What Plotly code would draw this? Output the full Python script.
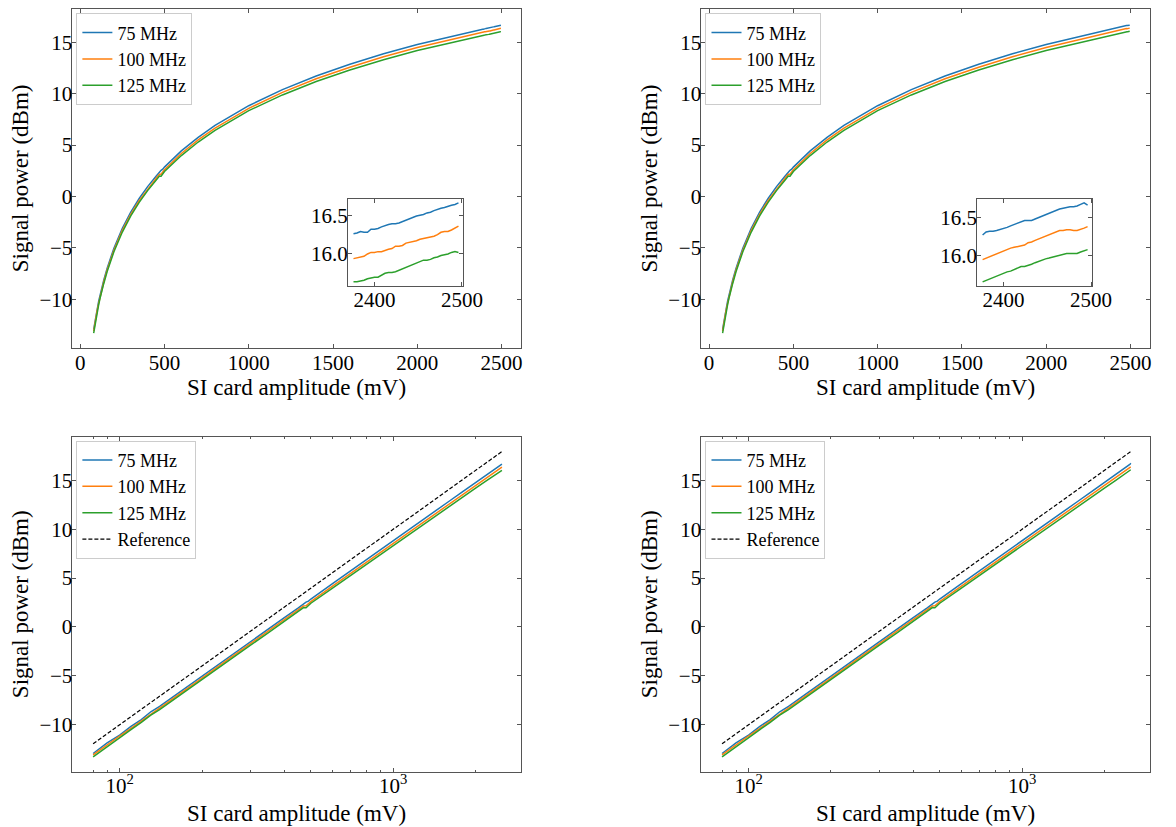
import plotly.graph_objects as go

# ---------------------------------------------------------------- data
# SI card output amplitude (mV), coarse sweep
amplitude_mv = [80, 90, 100, 110, 120, 130, 140, 160, 180, 200, 250, 300, 350, 400,
                450, 470, 480, 490, 500, 600, 700, 800, 1000, 1200, 1400, 1600,
                1800, 2000, 2200, 2300]

# measured signal power (dBm) on the coarse sweep
power_75 = [-12.94, -11.85, -11.05, -10.17, -9.47, -8.67, -8.13, -6.97, -5.89, -5.03,
            -3.09, -1.51, -0.20, 0.96, 1.96, 2.39, 2.54, 2.65, 2.86, 4.44, 5.75,
            6.91, 8.83, 10.40, 11.72, 12.86, 13.88, 14.78, 15.59, 15.97]
power_100 = [-13.09, -12.02, -11.15, -10.37, -9.60, -8.87, -8.30, -7.14, -6.09, -5.23,
             -3.29, -1.73, -0.40, 0.74, 1.76, 2.16, 2.17, 2.38, 2.60, 4.18, 5.50,
             6.66, 8.58, 10.13, 11.45, 12.58, 13.59, 14.49, 15.29, 15.66]
power_125 = [-13.29, -12.22, -11.28, -10.49, -9.75, -9.02, -8.46, -7.30, -6.25, -5.38,
             -3.46, -1.89, -0.57, 0.57, 1.58, 1.98, 1.97, 2.20, 2.43, 3.98, 5.30,
             6.44, 8.35, 9.88, 11.18, 12.31, 13.31, 14.20, 14.99, 15.36]

# fine sweep at the top end of the range (mV)
tail_mv = [2376, 2380, 2384, 2388, 2392, 2396, 2400, 2404, 2408, 2412, 2416, 2420,
           2424, 2428, 2432, 2436, 2440, 2444, 2448, 2452, 2456, 2460, 2464, 2468,
           2472, 2476, 2480, 2484, 2488, 2492, 2496]

# fine sweep, left-hand panels
tail_left_75 = [16.26, 16.27, 16.29, 16.28, 16.28, 16.32, 16.32, 16.33, 16.35, 16.37,
                16.38, 16.39, 16.39, 16.40, 16.42, 16.44, 16.46, 16.48, 16.49, 16.50,
                16.51, 16.53, 16.54, 16.56, 16.58, 16.59, 16.60, 16.62, 16.63, 16.64,
                16.66]
tail_left_100 = [15.94, 15.95, 15.96, 15.97, 16.00, 16.02, 16.02, 16.03, 16.03, 16.05,
                 16.06, 16.07, 16.10, 16.10, 16.11, 16.14, 16.15, 16.16, 16.17, 16.19,
                 16.20, 16.21, 16.22, 16.23, 16.25, 16.28, 16.29, 16.29, 16.31, 16.33,
                 16.36]
tail_left_125 = [15.64, 15.64, 15.65, 15.66, 15.68, 15.69, 15.70, 15.70, 15.73, 15.75,
                 15.76, 15.76, 15.77, 15.79, 15.81, 15.83, 15.84, 15.86, 15.88, 15.90,
                 15.92, 15.92, 15.93, 15.95, 15.96, 15.98, 15.99, 16.00, 16.02, 16.03,
                 16.02]

# fine sweep, right-hand panels
tail_right_75 = [16.27, 16.31, 16.32, 16.32, 16.33, 16.34, 16.35, 16.37, 16.39, 16.41,
                 16.42, 16.44, 16.46, 16.46, 16.46, 16.48, 16.50, 16.52, 16.54, 16.56,
                 16.58, 16.60, 16.61, 16.62, 16.63, 16.64, 16.64, 16.65, 16.67, 16.69,
                 16.66]
tail_right_100 = [15.95, 15.97, 15.99, 16.01, 16.03, 16.05, 16.07, 16.08, 16.10, 16.11,
                  16.12, 16.13, 16.14, 16.17, 16.18, 16.20, 16.22, 16.24, 16.26, 16.27,
                  16.29, 16.31, 16.33, 16.33, 16.34, 16.34, 16.33, 16.33, 16.34, 16.36,
                  16.38]
tail_right_125 = [15.66, 15.68, 15.70, 15.72, 15.74, 15.75, 15.77, 15.79, 15.80, 15.82,
                  15.84, 15.86, 15.86, 15.87, 15.89, 15.91, 15.93, 15.94, 15.96, 15.97,
                  15.98, 15.99, 16.00, 16.01, 16.03, 16.03, 16.03, 16.03, 16.05, 16.07,
                  16.08]

# ideal 50-ohm reference line end points
reference_mv = [80, 2496]
reference_dbm = [-11.94, 17.94]

series_names = ["75 MHz", "100 MHz", "125 MHz"]
series_colors = ["#1f77b4", "#ff7f0e", "#2ca02c"]

# ---------------------------------------------------------------- styling
FONT = "Liberation Serif, Times New Roman, Times, serif"
W, H = 1176, 827
TICK_FONT = dict(family=FONT, size=21, color="black")
AX_COLOR = "#555555"


def px_x(v):
    return v / W


def px_y(v):
    return 1 - v / H


COL_X = [(73.7, 530.3), (713.5, 1170.0)]
ROW_Y = [(9.0, 348.3), (437.3, 771.7)]
INSET_X = [(354.0, 471.3), (994.0, 1111.3)]
INSET_Y = (199.0, 285.7)


def axis_style(**kw):
    base = dict(showline=True, linecolor=AX_COLOR, linewidth=1, mirror="allticks",
                ticks="inside", ticklen=4, tickwidth=1, tickcolor=AX_COLOR,
                showgrid=False, zeroline=False, tickfont=TICK_FONT,
                ticklabelstandoff=-5)
    base.update(kw)
    return base


fig = go.Figure()

columns = [
    dict(tails=[tail_left_75, tail_left_100, tail_left_125]),
    dict(tails=[tail_right_75, tail_right_100, tail_right_125]),
]
coarse = [power_75, power_100, power_125]

for c, col in enumerate(columns):
    lin_ax = "" if c == 0 else "2"
    log_ax = str(3 + c)
    ins_ax = str(5 + c)
    leg_top = "legend" if c == 0 else "legend2"
    leg_bot = "legend3" if c == 0 else "legend4"
    for k in range(3):
        xs = amplitude_mv + tail_mv
        ys = coarse[k] + col["tails"][k]
        line = dict(color=series_colors[k], width=1.5)
        fig.add_trace(go.Scatter(x=xs, y=ys, mode="lines", name=series_names[k],
                                 line=line, xaxis="x" + lin_ax, yaxis="y" + lin_ax,
                                 legend=leg_top))
        fig.add_trace(go.Scatter(x=xs, y=ys, mode="lines", name=series_names[k],
                                 line=line, xaxis="x" + log_ax, yaxis="y" + log_ax,
                                 legend=leg_bot))
        fig.add_trace(go.Scatter(x=tail_mv, y=col["tails"][k], mode="lines",
                                 line=line, showlegend=False,
                                 xaxis="x" + ins_ax, yaxis="y" + ins_ax))
    fig.add_trace(go.Scatter(x=reference_mv, y=reference_dbm, mode="lines",
                             name="Reference",
                             line=dict(color="black", width=1.2, dash="4px,2px"),
                             xaxis="x" + log_ax, yaxis="y" + log_ax, legend=leg_bot))

layout = dict(width=W, height=H, margin=dict(l=0, r=0, t=0, b=0),
              paper_bgcolor="white", plot_bgcolor="white", showlegend=True,
              font=dict(family=FONT, color="black"))

minor_log = dict(ticks="inside", ticklen=2, tickwidth=1, tickcolor=AX_COLOR,
                 showgrid=False,
                 tickvals=[80, 90, 200, 300, 400, 500, 600, 700, 800, 900, 2000])

for c in range(2):
    x0, x1 = COL_X[c]
    lin = "" if c == 0 else "2"
    log = str(3 + c)
    ins = str(5 + c)
    # linear-amplitude panel
    layout["xaxis" + lin] = axis_style(
        domain=[px_x(x0), px_x(x1)], range=[-46, 2617],
        tickvals=[0, 500, 1000, 1500, 2000, 2500], anchor="y" + lin)
    layout["yaxis" + lin] = axis_style(
        domain=[px_y(ROW_Y[0][1]), px_y(ROW_Y[0][0])], range=[-14.77, 18.24],
        tickvals=[-10, -5, 0, 5, 10, 15], ticktext=["\u221210", "\u22125", "0", "5", "10", "15"],
        anchor="x" + lin)
    # log-amplitude panel
    layout["xaxis" + log] = axis_style(
        type="log", domain=[px_x(x0), px_x(x1)], range=[1.8275, 3.468],
        tickvals=[100, 1000], ticktext=["10<sup>2</sup>", "10<sup>3</sup>"],
        minor=minor_log, anchor="y" + log)
    layout["yaxis" + log] = axis_style(
        domain=[px_y(ROW_Y[1][1]), px_y(ROW_Y[1][0])], range=[-14.8, 19.4],
        tickvals=[-10, -5, 0, 5, 10, 15], ticktext=["\u221210", "\u22125", "0", "5", "10", "15"],
        anchor="x" + log)
    # zoomed inset of the top end
    ix0, ix1 = INSET_X[c]
    yr = [15.59, 16.71] if c == 0 else [15.61, 16.74]
    layout["xaxis" + ins] = axis_style(
        domain=[px_x(ix0), px_x(ix1)], range=[2369.7, 2501.5],
        tickvals=[2400, 2500], anchor="y" + ins)
    layout["yaxis" + ins] = axis_style(
        domain=[px_y(INSET_Y[1]), px_y(INSET_Y[0])], range=yr,
        tickvals=[16.0, 16.5], ticktext=["16.0", "16.5"], anchor="x" + ins)

legend_style = dict(bgcolor="white", bordercolor="#cccccc", borderwidth=1,
                    font=dict(family=FONT, size=18, color="black"),
                    xanchor="left", yanchor="top", tracegroupgap=0,
                    itemwidth=30)
legend_pos = {"legend": (77.7, 13.3), "legend2": (717.7, 13.3),
              "legend3": (77.7, 440.7), "legend4": (717.7, 440.7)}
for name, (lx, ly) in legend_pos.items():
    layout[name] = dict(legend_style, x=px_x(lx), y=px_y(ly))

fig.update_layout(**layout)

# axis titles
title_font = dict(family=FONT, size=23, color="black")
for c in range(2):
    x0, x1 = COL_X[c]
    xc = px_x((x0 + x1) / 2)
    ytx = px_x(21 if c == 0 else 661)
    for r, xy in enumerate([387, 813]):
        fig.add_annotation(text="SI card amplitude (mV)", x=xc, y=px_y(xy),
                           xref="paper", yref="paper", showarrow=False,
                           xanchor="center", yanchor="middle", font=title_font)
        yc = px_y((ROW_Y[r][0] + ROW_Y[r][1]) / 2)
        fig.add_annotation(text="Signal power (dBm)", x=ytx, y=yc, textangle=-90,
                           xref="paper", yref="paper", showarrow=False,
                           xanchor="center", yanchor="middle", font=title_font)

fig.write_html("out.html")
